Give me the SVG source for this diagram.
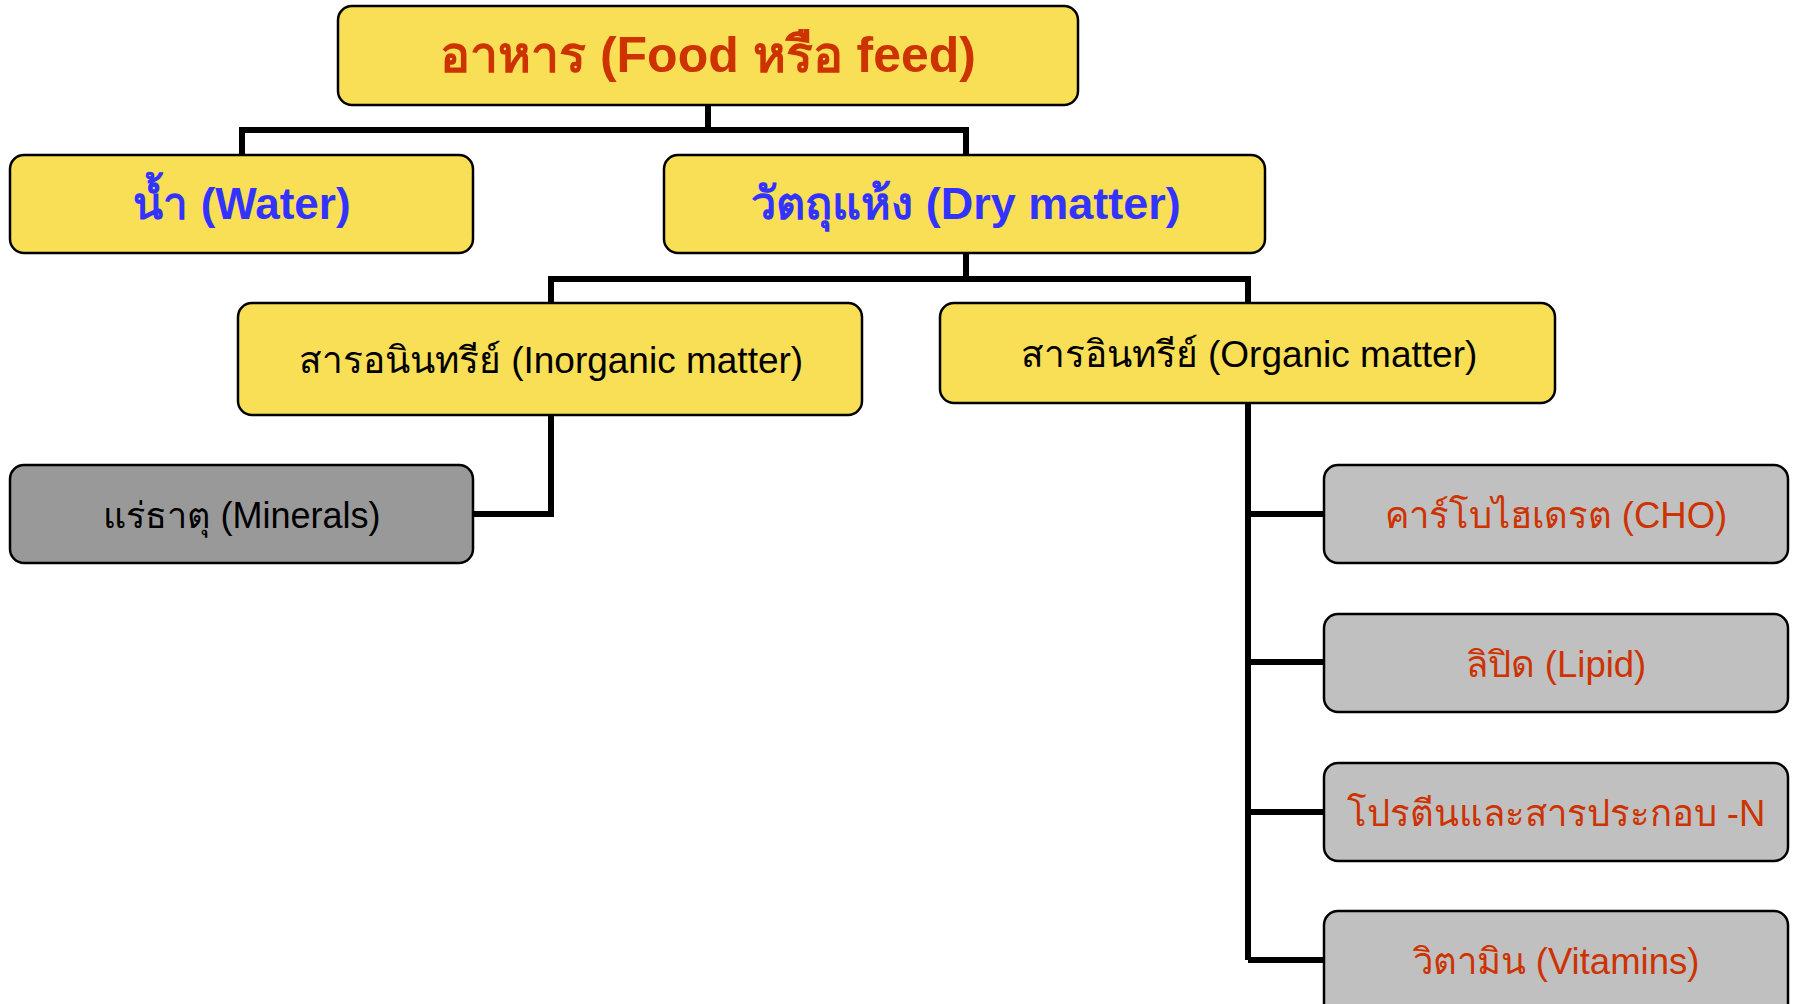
<svg xmlns="http://www.w3.org/2000/svg" width="1796" height="1004" viewBox="0 0 1796 1004">
<style>
.box{stroke:#000;stroke-width:2.5}
.y{fill:#F9DF55}
.g{fill:#C0C0C0}
.dg{fill:#999999}
text{font-family:"Liberation Sans","DejaVu Sans","Noto Sans",sans-serif;text-anchor:middle}
.t1{font-size:50px;font-weight:bold;fill:#CC3300}
.t2{font-size:44px;font-weight:bold;fill:#3333FF}
.t2b{font-size:45px;font-weight:bold;fill:#3333FF}
.t3{font-size:37px;fill:#000}
.t3m{font-size:36px;fill:#000}
.t4{font-size:36.5px;fill:#CC3300}
.c{fill:none;stroke:#000;stroke-width:6;stroke-linejoin:miter}
</style>
<rect width="1796" height="1004" fill="#fff"/>
<g id="connectors">
<path class="c" d="M708,105 V130 M242,155 V130 H966 V155"/>
<path class="c" d="M966,253 V279 M551,303 V279 H1248 V303"/>
<path class="c" d="M551,415 V514 H473"/>
<path class="c" d="M1248,403 V960 M1248,514 H1324 M1248,662 H1324 M1248,812 H1324 M1248,960 H1324"/>
</g>
<g id="food">
<rect class="box y" x="338" y="6" width="740" height="99" rx="14"/>
<text class="t1" x="708" y="72">อาหาร (Food หรือ feed)</text>
</g>
<g id="water">
<rect class="box y" x="10" y="155" width="463" height="98" rx="14"/>
<text class="t2" x="242" y="219">น้ำ (Water)</text>
</g>
<g id="drymatter">
<rect class="box y" x="664" y="155" width="601" height="98" rx="14"/>
<text class="t2b" x="966" y="219">วัตถุแห้ง (Dry matter)</text>
</g>
<g id="inorganic">
<rect class="box y" x="238" y="303" width="624" height="112" rx="14"/>
<text class="t3" x="551" y="373">สารอนินทรีย์ (Inorganic matter)</text>
</g>
<g id="organic">
<rect class="box y" x="940" y="303" width="615" height="100" rx="14"/>
<text class="t3" x="1249" y="367">สารอินทรีย์ (Organic matter)</text>
</g>
<g id="minerals">
<rect class="box dg" x="10" y="465" width="463" height="98" rx="14"/>
<text class="t3m" x="242" y="528">แร่ธาตุ (Minerals)</text>
</g>
<g id="cho">
<rect class="box g" x="1324" y="465" width="464" height="98" rx="14"/>
<text class="t4" x="1556" y="528">คาร์โบไฮเดรต (CHO)</text>
</g>
<g id="lipid">
<rect class="box g" x="1324" y="614" width="464" height="98" rx="14"/>
<text class="t4" x="1556" y="677">ลิปิด (Lipid)</text>
</g>
<g id="protein">
<rect class="box g" x="1324" y="763" width="464" height="98" rx="14"/>
<text class="t4" x="1556" y="826">โปรตีนและสารประกอบ -N</text>
</g>
<g id="vitamins">
<rect class="box g" x="1324" y="911" width="464" height="110" rx="14"/>
<text class="t4" x="1556" y="974">วิตามิน (Vitamins)</text>
</g>
</svg>
